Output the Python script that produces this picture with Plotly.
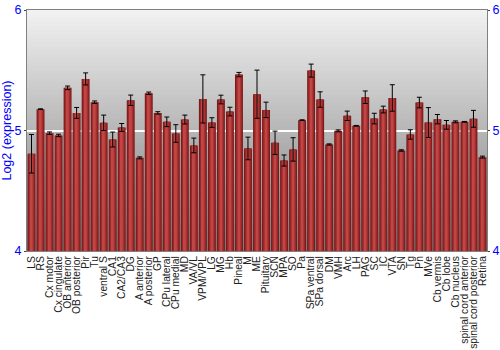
import plotly.graph_objects as go

categories = ["LS", "RS", "Cx motor", "Cx cingulate", "OB anterior", "OB posterior", "Pir", "Tu",
              "ventral S", "CA1", "CA2/CA3", "DG", "A anterior", "A posterior", "GP", "CPu lateral",
              "CPu medial", "MD", "VA/VL", "VPM/VPL", "LG", "MG", "Hb", "Pineal", "M", "ME",
              "Pituitary", "SCN", "MPA", "SO", "Pa", "SPa ventral", "SPa dorsal", "DM", "VMH", "Arc",
              "LH", "PAG", "SC", "IC", "VTA", "SN", "Tg", "Pn", "MVe", "Cb vermis", "Cb lobe",
              "Cb nucleus", "spinal cord anterior", "spinal cord posterior", "Retina"]

values = [4.807, 5.177, 4.978, 4.959, 5.354, 5.146, 5.428, 5.235,
          5.064, 4.925, 5.025, 5.251, 4.773, 5.309, 5.146, 5.072,
          4.975, 5.091, 4.876, 5.262, 5.066, 5.257, 5.157, 5.464, 4.851, 5.301,
          5.171, 4.898, 4.751, 4.843, 5.086, 5.497, 5.257, 4.884, 4.997, 5.122,
          5.039, 5.276, 5.099, 5.174, 5.270, 4.834, 4.967, 5.232, 5.066, 5.094, 5.047,
          5.072, 5.072, 5.097, 4.779]

errors = [0.160, 0.003, 0.010, 0.010, 0.015, 0.045, 0.050, 0.010,
          0.064, 0.062, 0.033, 0.043, 0.008, 0.010, 0.010, 0.040,
          0.073, 0.037, 0.061, 0.200, 0.040, 0.036, 0.036, 0.018, 0.094, 0.200,
          0.064, 0.097, 0.046, 0.097, 0.003, 0.054, 0.064, 0.005, 0.008, 0.039,
          0.003, 0.052, 0.044, 0.028, 0.110, 0.006, 0.039, 0.044, 0.124, 0.039, 0.036,
          0.008, 0.003, 0.070, 0.008]

y_ticks = [4, 5, 6]
y_range = [4, 6]

fig = go.Figure()

# layered bars give a horizontal shading effect
layers = [(0.88, "#7a1b1b"), (0.66, "#9a2828"), (0.42, "#b03636"), (0.2, "#c04646")]
for i, (w, col) in enumerate(layers):
    last = i == len(layers) - 1
    fig.add_trace(go.Bar(
        x=categories, y=[v - 4 for v in values], base=4, width=w,
        marker=dict(color=col, line=dict(width=0)),
        error_y=dict(type="data", array=errors, color="black", thickness=1, width=2.5,
                     visible=last),
        hoverinfo="skip", showlegend=False,
    ))

# invisible trace to carry the right-hand axis
fig.add_trace(go.Scatter(x=categories, y=values, yaxis="y2", mode="markers",
                         marker=dict(opacity=0), hoverinfo="skip", showlegend=False))

# gradient background
n = 60
shapes = []
step = (y_range[1] - y_range[0]) / n
for k in range(n):
    y0 = y_range[0] + step * k
    y1 = min(y_range[1], y0 + step * 1.6)
    t = (k + 0.5) / n
    g = int(round(122 + (242 - 122) * t))
    shapes.append(dict(type="rect", xref="paper", yref="y", x0=0, x1=1, y0=y0, y1=y1,
                       fillcolor=f"rgb({g},{g},{g})", line=dict(width=0), layer="below"))

fam = "Liberation Sans, Arial, sans-serif"
axis_font = dict(family=fam, size=12.5, color="#0000ff")

fig.update_layout(
    width=500, height=350,
    margin=dict(l=27, r=13, t=10, b=99, autoexpand=False),
    paper_bgcolor="white", plot_bgcolor="white",
    barmode="overlay", bargap=0.1,
    shapes=shapes,
    font=dict(family=fam),
    xaxis=dict(
        tickmode="array", tickvals=categories, ticktext=categories,
        tickangle=-90, tickfont=dict(family=fam, size=10.3, color="#222222"),
        showline=True, linecolor="#808080", mirror=True, ticks="", showgrid=False,
        range=[-0.5, len(categories) - 0.5], automargin=False,
    ),
    yaxis=dict(
        range=y_range, tickvals=y_ticks, tickfont=axis_font, automargin=False,
        title=dict(text="Log2 (expression)", font=dict(family=fam, size=12.5, color="#0000ff"), standoff=1),
        showline=True, linecolor="#808080", ticks="outside", ticklen=2, tickcolor="#404040",
        showgrid=True, gridcolor="white", gridwidth=1.5, zeroline=False,
    ),
    yaxis2=dict(
        range=y_range, tickvals=y_ticks, tickfont=axis_font, overlaying="y", side="right",
        showline=True, linecolor="#808080", ticks="outside", ticklen=2, tickcolor="#404040",
        showgrid=False, zeroline=False, automargin=False,
    ),
)

fig.write_html("out.html")
